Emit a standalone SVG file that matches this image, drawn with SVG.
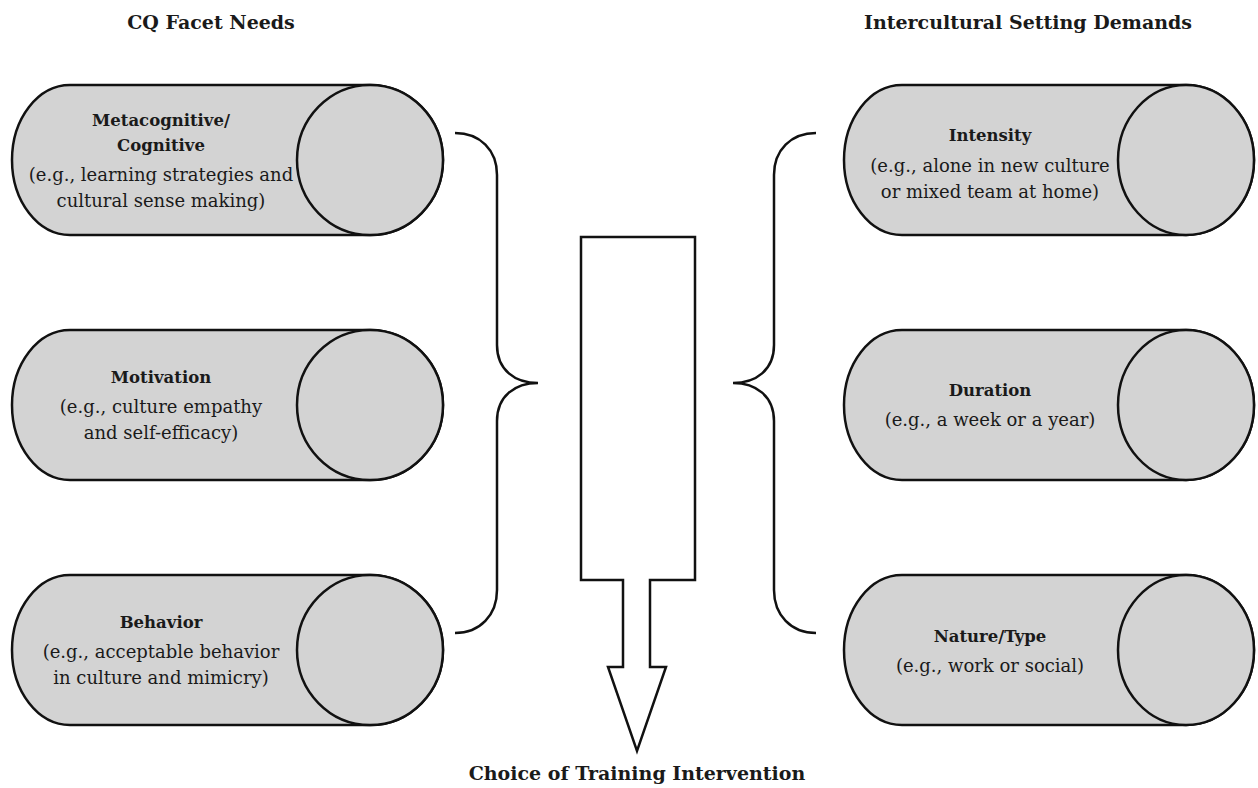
<svg xmlns="http://www.w3.org/2000/svg" width="1258" height="788" viewBox="0 0 1258 788">
<style>
.cyl{fill:#d3d3d3;stroke:#111;stroke-width:2.5}
.ln{fill:none;stroke:#111;stroke-width:2.5}
.arr{fill:#fff;stroke:#111;stroke-width:2.5;stroke-linejoin:miter}
.t{font-family:"DejaVu Serif","Liberation Serif",serif;fill:#1a1a1a;text-anchor:middle}
.h{font-size:19px;font-weight:bold}
.b{font-size:16.5px;font-weight:bold}
.r{font-size:18px}
</style>
<rect width="1258" height="788" fill="#fff"/>
<g id="titles">
<text class="t h" x="211" y="29">CQ Facet Needs</text>
<text class="t h" x="1028" y="29">Intercultural Setting Demands</text>
<text class="t h" x="637" y="780">Choice of Training Intervention</text>
</g>
<g id="node-metacognitive">
<path class="cyl" d="M70,85 H370 A73,75 0 0 1 370,235 H70 A58,75 0 0 1 70,85 Z"/>
<ellipse class="cyl" cx="370" cy="160" rx="73" ry="75"/>
<text class="t b" x="161" y="126">Metacognitive/</text>
<text class="t b" x="161" y="151">Cognitive</text>
<text class="t r" x="161" y="181">(e.g., learning strategies and</text>
<text class="t r" x="161" y="207">cultural sense making)</text>
</g>
<g id="node-motivation">
<path class="cyl" d="M70,330 H370 A73,75 0 0 1 370,480 H70 A58,75 0 0 1 70,330 Z"/>
<ellipse class="cyl" cx="370" cy="405" rx="73" ry="75"/>
<text class="t b" x="161" y="383">Motivation</text>
<text class="t r" x="161" y="413">(e.g., culture empathy</text>
<text class="t r" x="161" y="439">and self-efficacy)</text>
</g>
<g id="node-behavior">
<path class="cyl" d="M70,575 H370 A73,75 0 0 1 370,725 H70 A58,75 0 0 1 70,575 Z"/>
<ellipse class="cyl" cx="370" cy="650" rx="73" ry="75"/>
<text class="t b" x="161" y="628">Behavior</text>
<text class="t r" x="161" y="658">(e.g., acceptable behavior</text>
<text class="t r" x="161" y="684">in culture and mimicry)</text>
</g>
<g id="node-intensity">
<path class="cyl" d="M902,85 H1186 A68,75 0 0 1 1186,235 H902 A58,75 0 0 1 902,85 Z"/>
<ellipse class="cyl" cx="1186" cy="160" rx="68" ry="75"/>
<text class="t b" x="990" y="141">Intensity</text>
<text class="t r" x="990" y="172">(e.g., alone in new culture</text>
<text class="t r" x="990" y="198">or mixed team at home)</text>
</g>
<g id="node-duration">
<path class="cyl" d="M902,330 H1186 A68,75 0 0 1 1186,480 H902 A58,75 0 0 1 902,330 Z"/>
<ellipse class="cyl" cx="1186" cy="405" rx="68" ry="75"/>
<text class="t b" x="990" y="396">Duration</text>
<text class="t r" x="990" y="426">(e.g., a week or a year)</text>
</g>
<g id="node-nature">
<path class="cyl" d="M902,575 H1186 A68,75 0 0 1 1186,725 H902 A58,75 0 0 1 902,575 Z"/>
<ellipse class="cyl" cx="1186" cy="650" rx="68" ry="75"/>
<text class="t b" x="990" y="642">Nature/Type</text>
<text class="t r" x="990" y="672">(e.g., work or social)</text>
</g>
<g id="connectors">
<path class="ln" d="M455,133 C480,133 497,150 497,175 V345 C497,370 515,383 538,383 C515,383 497,396 497,421 V590 C497,615 480,633 455,633"/>
<path class="ln" d="M816,133 C791,133 774,150 774,175 V345 C774,370 756,383 733,383 C756,383 774,396 774,421 V590 C774,615 791,633 816,633"/>
<path id="arrow" class="arr" d="M581,237 H695 V580 H650 V667 H666 L637,751 L608,667 H623 V580 H581 Z"/>
</g>
</svg>
